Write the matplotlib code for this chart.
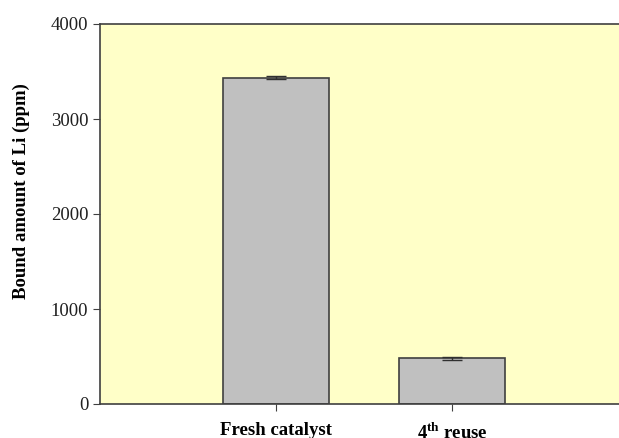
import matplotlib
matplotlib.use('Agg')
import matplotlib.pyplot as plt

categories = ['Fresh catalyst', '4$^{\\mathrm{th}}$ reuse']
values = [3435, 484]
errors = [18, 16]

plt.rcParams['font.family'] = 'Liberation Serif'
plt.rcParams['mathtext.fontset'] = 'custom'
plt.rcParams['mathtext.rm'] = 'Liberation Serif:bold'

fig = plt.figure(figsize=(6.19, 4.38), dpi=100)
ax = fig.add_axes([100 / 619, 34 / 438, 528 / 619, 380 / 438])
ax.set_facecolor('#ffffc8')

x = list(range(len(categories)))
ax.bar(x, values, width=0.6, color='#c0c0c0', edgecolor='#404040', linewidth=1.2,
       yerr=errors, capsize=7, error_kw=dict(ecolor='#303030', elinewidth=1, capthick=1))

ax.set_xlim(-1, 2)
ax.set_ylim(0, 4000)
ax.set_yticks([0, 1000, 2000, 3000, 4000])
ax.set_xticks(x)
ax.set_xticklabels(categories, fontweight='bold', fontsize=13.5)
ax.tick_params(axis='x', direction='out', length=5, pad=8, color='#404040')
ax.tick_params(axis='y', direction='out', length=5, labelsize=13.5, color='#404040',
               labelcolor='#202020')
ax.spines['right'].set_visible(False)
for s in ['left', 'top', 'bottom']:
    ax.spines[s].set_color('#404040')
    ax.spines[s].set_linewidth(1.2)

ax.set_ylabel('Bound amount of Li (ppm)', fontweight='bold', fontsize=13.5)
ax.yaxis.set_label_coords(-0.133, 0.56)

fig.savefig('out.png', dpi=100)
